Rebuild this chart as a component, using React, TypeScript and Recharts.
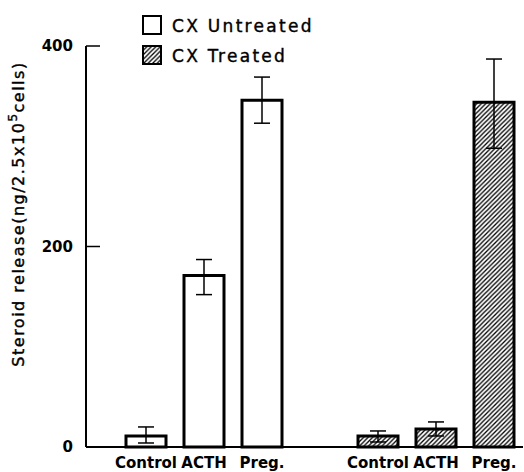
import React from 'react';
import { BarChart, Bar, XAxis, YAxis, ErrorBar, Cell } from 'recharts';

const groups = ['CX Untreated', 'CX Treated'];
const treatments = ['Control', 'ACTH', 'Preg.'];
const untreatedMean = [11, 171, 346];
const untreatedLow = [4, 152, 323];
const untreatedHigh = [20, 187, 369];
const treatedMean = [11, 18, 344];
const treatedLow = [5, 11, 298];
const treatedHigh = [16, 25, 387];
const yTicks = [0, 200, 400];

const FONT = '"DejaVu Sans", sans-serif';

// one row per bar, with an empty slot between the two groups
const rows = [
  ...treatments.map((t, i) => ({
    key: 'u' + i,
    label: t,
    group: 0,
    value: untreatedMean[i],
    err: [untreatedMean[i] - untreatedLow[i], untreatedHigh[i] - untreatedMean[i]],
  })),
  { key: 'gap', label: '', group: -1, value: null, err: null },
  ...treatments.map((t, i) => ({
    key: 't' + i,
    label: t,
    group: 1,
    value: treatedMean[i],
    err: [treatedMean[i] - treatedLow[i], treatedHigh[i] - treatedMean[i]],
  })),
];

const YTick = ({ x, y, payload }: any) => (
  <g>
    <text x={x} y={y} dy={5} textAnchor="end" fontFamily={FONT} fontWeight="bold" fontSize={15} fill="#000">
      {payload.value}
    </text>
    {payload.value !== 0 && (
      <line x1={x + 13} x2={x + 27} y1={y} y2={y} stroke="#000" strokeWidth={1.5} />
    )}
  </g>
);

const Overlay = () => (
  <svg width={524} height={472} style={{ position: 'absolute', left: 0, top: 0, pointerEvents: 'none' }}>
    <defs>
      <pattern id="hatchLegend" patternUnits="userSpaceOnUse" width={4.5} height={4.5}>
        <path d="M-1,1 l2,-2 M0,4.5 l4.5,-4.5 M3.5,5.5 l2,-2" stroke="#000" strokeWidth={1.3} />
      </pattern>
    </defs>
    <rect x={143} y={16} width={18} height={18} fill="#fff" stroke="#000" strokeWidth={2} />
    <text x={172} y={32} fontFamily={FONT} fontSize={17} letterSpacing={2.3} fill="#000" stroke="#000" strokeWidth={0.4}>{groups[0]}</text>
    <rect x={143} y={46} width={18} height={18} fill="url(#hatchLegend)" stroke="#000" strokeWidth={2} />
    <text x={172} y={62} fontFamily={FONT} fontSize={17} letterSpacing={2.3} fill="#000" stroke="#000" strokeWidth={0.4}>{groups[1]}</text>
    <text
      transform="translate(24,214) rotate(-90)"
      textAnchor="middle"
      fontFamily={FONT}
      fontSize={16}
      letterSpacing={1.5}
      fill="#000"
      stroke="#000"
      strokeWidth={0.4}
    >
      Steroid release(ng/2.5x10<tspan dy={-7} fontSize={12}>5</tspan>
      <tspan dy={7}>cells)</tspan>
    </text>
  </svg>
);

export default function App() {
  return (
    <div style={{ position: 'absolute', left: 0, top: 0, width: 524, height: 472, background: '#fff' }}>
      <BarChart
        width={524}
        height={472}
        data={rows}
        margin={{ top: 46, right: 1, bottom: 0, left: 0 }}
        barCategoryGap={0}
      >
        <defs>
          <pattern id="hatch" patternUnits="userSpaceOnUse" width={4.5} height={4.5}>
            <path d="M-1,1 l2,-2 M0,4.5 l4.5,-4.5 M3.5,5.5 l2,-2" stroke="#000" strokeWidth={1.3} />
          </pattern>
        </defs>
        <XAxis
          dataKey="key"
          tickFormatter={(k: string) => rows.find((r) => r.key === k)?.label ?? ''}
          padding={{ left: 31, right: 0 }}
          tickLine={false}
          tickSize={0}
          tickMargin={10}
          height={25}
          axisLine={{ stroke: '#000', strokeWidth: 2 }}
          tick={{ fontFamily: FONT, fontWeight: 'bold', fontSize: 15, fill: '#000' }}
          interval={0}
        />
        <YAxis
          domain={[0, 400]}
          ticks={yTicks}
          width={86}
          tickLine={false}
          tickSize={0}
          tickMargin={13}
          axisLine={{ stroke: '#000', strokeWidth: 2 }}
          tick={<YTick />}
        />
        <Bar dataKey="value" barSize={40} stroke="#000" strokeWidth={3} isAnimationActive={false}>
          {rows.map((r) => (
            <Cell key={r.key} fill={r.group === 1 ? 'url(#hatch)' : '#fff'} />
          ))}
          <ErrorBar dataKey="err" width={8} stroke="#000" strokeWidth={1.5} isAnimationActive={false} />
        </Bar>
      </BarChart>
      <Overlay />
    </div>
  );
}
